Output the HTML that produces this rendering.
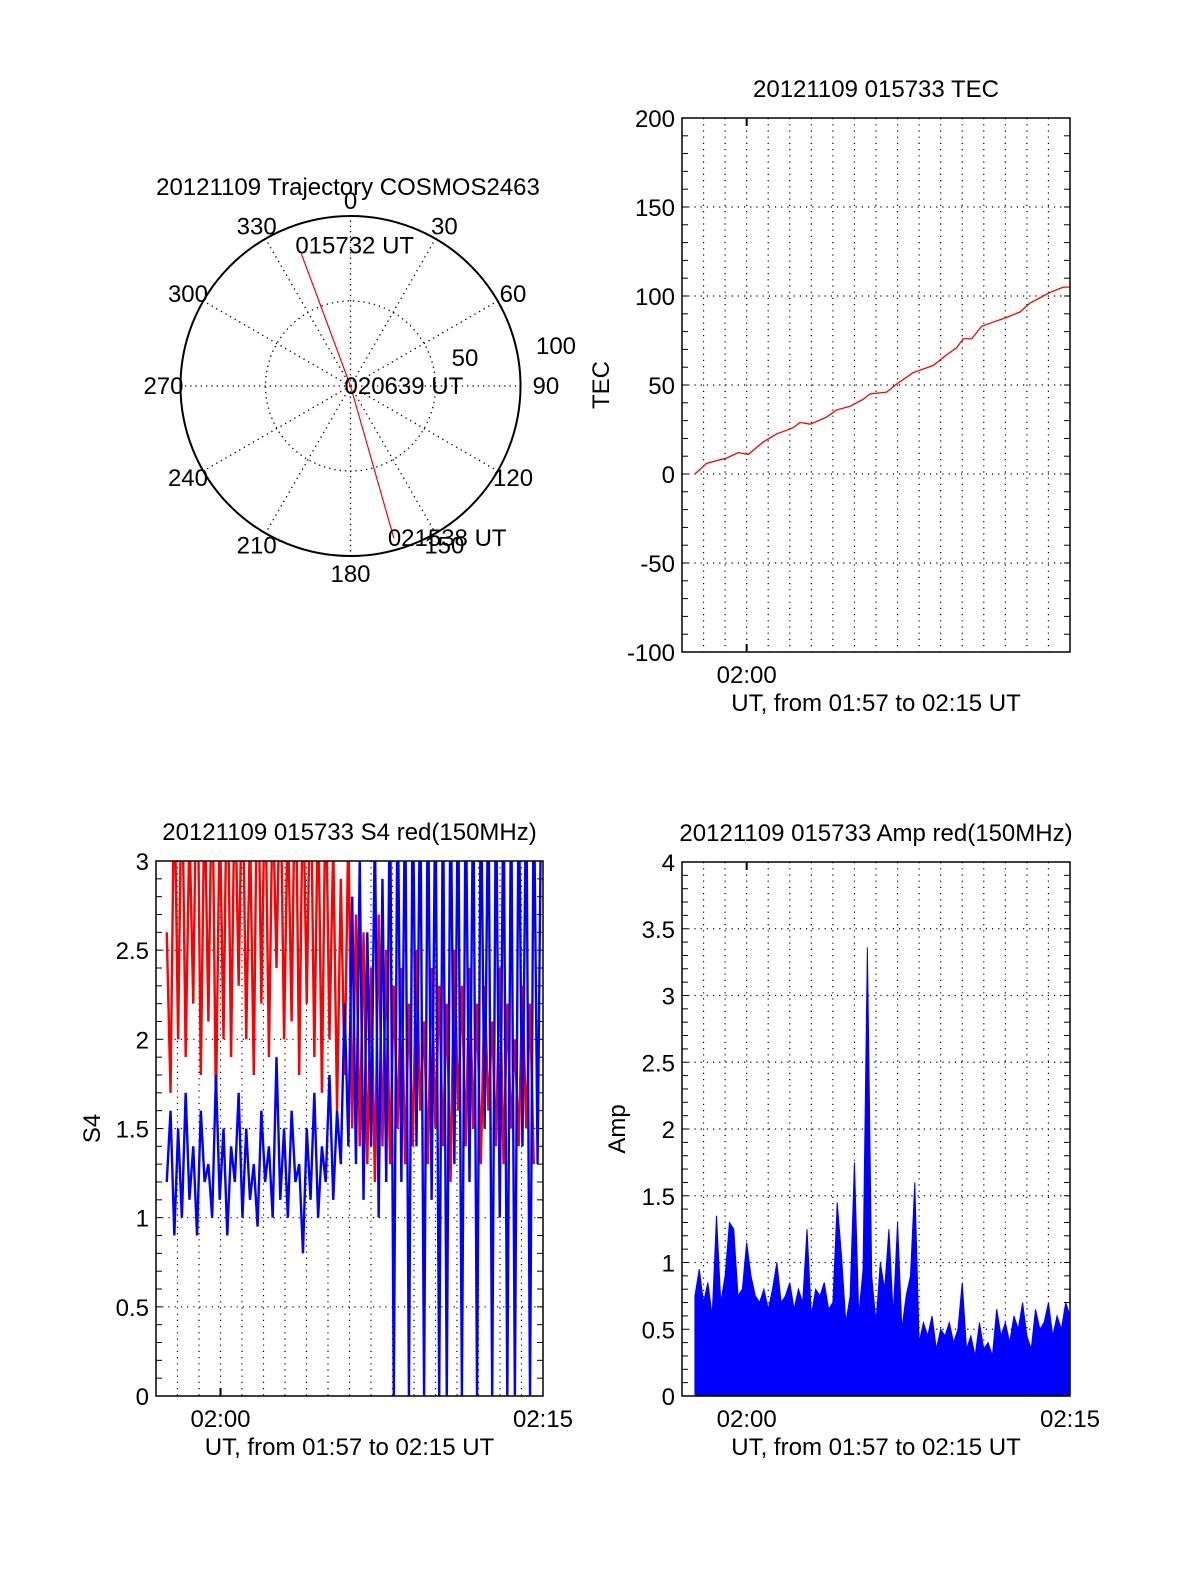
<!DOCTYPE html>
<html><head><meta charset="utf-8"><style>
html,body{margin:0;padding:0;background:#fff}
svg text{font-family:"Liberation Sans",sans-serif;font-size:24px;fill:#000}
</style></head><body>
<svg id="fig" width="1200" height="1575" xmlns="http://www.w3.org/2000/svg">
<defs>
<clipPath id="clipS4"><rect x="156" y="861" width="387" height="535"/></clipPath>
<clipPath id="clipAmp"><rect x="682" y="862" width="388" height="534"/></clipPath>
</defs>
<g id="polar"></g>
<g id="tec"></g>
<g id="s4"></g>
<g id="amp"></g>
</svg>
<script>
// ---------- data ----------
const polarAz = [339.6, 0, 164.1];
const polarZen = [83, 0, 93];
const polarLabels = ["015732 UT", "020639 UT", "021538 UT"];

const tecT = [0.60,1.14,2.07,2.61,3.08,3.77,4.39,5.16,5.47,5.94,6.71,7.17,7.79,8.41,8.72,9.49,9.95,10.73,11.66,12.28,12.74,13.05,13.44,13.90,14.36,15.06,15.68,16.14,16.76,17.07,17.69,18.0];
const tecV = [0,6,9,12,11,18,22.5,26,29,28,32,36,38,42,45,46,50.5,57,61,67,71,76,76,83,85,88,91,96,100,102,105,105];
const tecYTicks = [-100,-50,0,50,100,150,200];

const s4T0 = 0.5, s4Step = 0.176;
const s4Red = [2.6,1.7,3.5,2.0,3.6,1.9,3.2,2.2,3.8,1.8,3.4,2.1,3.6,1.6,3.3,2.0,3.7,1.9,3.5,2.3,3.6,2.0,3.2,1.8,3.8,2.2,3.5,1.9,3.4,2.4,3.6,2.0,3.3,2.1,3.7,1.8,3.5,2.2,3.6,1.9,3.4,1.7,3.5,2.0,3.1,1.6,2.9,1.8,3.2,1.5,2.7,1.4,
 2.6,1.3,2.4,1.2,2.7,1.4,2.5,1.3,2.3,1.5,2.4,1.3,2.2,1.4,2.5,1.6,2.1,1.3,2.4,1.5,2.3,1.4,2.2,1.2,2.5,1.6,2.3,1.4,2.4,1.5,2.2,1.3,2.3,1.6,2.1,1.4,2.4,1.3,2.2,1.5,2.0,1.4,2.3,1.5,2.2,1.3];
const s4Blue = [1.2,1.6,0.9,1.5,1.0,1.7,1.1,1.4,0.9,1.6,1.2,1.3,1.0,1.8,1.1,1.5,0.9,1.4,1.2,1.7,1.0,1.5,1.1,1.3,0.95,1.6,1.2,1.4,1.0,1.9,1.1,1.5,1.0,1.6,1.2,1.3,0.8,1.5,1.1,1.7,1.0,1.4,1.2,1.8,1.1,1.6,1.3,2.2,
 1.4,2.8,1.3,3.0,1.1,2.6,1.4,3.2,1.0,2.9,1.2,3.5,0.0,3.5,1.2,3.5,0.0,3.5,1.4,3.5,0.0,3.5,1.1,3.5,0.0,3.5,0.0,3.5,1.3,3.5,0.0,3.5,1.2,3.5,0.0,3.5,1.5,3.5,0.0,3.5,1.0,3.5,0.0,3.5,0.0,3.5,1.4,3.5,0.0,3.5,1.3,3.5];
const s4YTicks = ["0","0.5","1","1.5","2","2.5","3"];

const ampT0 = 0.6, ampStep = 0.2;
const ampV = [0.75,0.95,0.7,0.85,0.6,1.35,0.7,0.9,1.3,1.25,0.75,0.8,1.15,0.9,0.75,0.7,0.8,0.65,0.8,1.0,0.7,0.75,0.85,0.65,0.8,0.7,1.25,0.6,0.8,0.75,0.85,0.65,0.7,1.45,1.05,0.55,0.75,1.75,0.6,0.95,3.36,0.9,0.55,1.0,0.8,1.25,0.6,1.3,0.5,0.75,0.9,1.6,0.4,0.55,0.45,0.6,0.35,0.5,0.45,0.55,0.4,0.5,0.85,0.35,0.45,0.3,0.55,0.35,0.4,0.3,0.65,0.45,0.55,0.4,0.6,0.5,0.7,0.45,0.35,0.65,0.5,0.55,0.7,0.45,0.6,0.5,0.7,0.6];
const ampYTicks = ["0","0.5","1","1.5","2","2.5","3","3.5","4"];

// ---------- helpers ----------
const NS="http://www.w3.org/2000/svg";
function el(parent,tag,attrs){const e=document.createElementNS(NS,tag);for(const k in attrs)e.setAttribute(k,attrs[k]);parent.appendChild(e);return e;}
function txt(parent,x,y,s,anchor){const t=el(parent,'text',{x:x,y:y,'text-anchor':anchor||'middle'});t.textContent=s;return t;}

// ---------- polar ----------
(function(){
 const g=document.getElementById('polar');
 const cx=350.5,cy=386,R=170;
 const c1=el(g,'circle',{cx:cx,cy:cy,r:R,fill:'none',stroke:'#000','stroke-width':2});
 
 const c2=el(g,'circle',{cx:cx,cy:cy,r:R/2,fill:'none',stroke:'#000','stroke-width':1.3,'stroke-dasharray':'1.3,4'});
 
 for(let a=0;a<360;a+=30){
  const r=a*Math.PI/180;
  const l=el(g,'line',{x1:cx,y1:cy,x2:cx+R*Math.sin(r),y2:cy-R*Math.cos(r),stroke:'#000','stroke-width':1.3,'stroke-dasharray':'1.3,4'});
  
  const lr=R+14;
  const t=txt(g,cx+lr*Math.sin(r)*1.02,cy-lr*Math.cos(r)+8+(a===0?-1:0)+(a===180?4:0),String(a));
  if(a===90){t.setAttribute('x',cx+R+12);t.setAttribute('text-anchor','start');}
  if(a===270){t.setAttribute('x',cx-R+3);t.setAttribute('text-anchor','end');}
  
 }
 const t50=txt(g,465,366,'50');
 const t100=txt(g,556,354,'100');
 const tt=txt(g,348,195,'20121109 Trajectory COSMOS2463');
 
 const pts=polarAz.map((a,i)=>{const r=a*Math.PI/180,d=polarZen[i]/100*R;return [cx+d*Math.sin(r),cy-d*Math.cos(r)];});
 const pl=el(g,'polyline',{points:pts.map(p=>p.join(',')).join(' '),fill:'none',stroke:'#f00','stroke-width':1.2});
 
 pts.forEach((p,i)=>{const t=txt(g,p[0]-6,p[1]+(i===0?0:8),polarLabels[i],'start');
  });
})();

// ---------- generic panel ----------
function panel(g,o){
 const {x0,y0,w,h,ymin,ymax,title,ylabel,ylx,yticks,xlab}=o;
 const X=m=>x0+m/18*w, Y=v=>y0+h-(v-ymin)/(ymax-ymin)*h;
 for(let m=1;m<18;m++){
  const l=el(g,'line',{x1:X(m),y1:y0,x2:X(m),y2:y0+h,stroke:'#000','stroke-width':1.2,'stroke-dasharray':'1.2,5'});
  
 }
 yticks.forEach(v=>{
  const yy=Y(+v);
  if(+v>ymin && +v<ymax){const l=el(g,'line',{x1:x0,y1:yy,x2:x0+w,y2:yy,stroke:'#000','stroke-width':1.2,'stroke-dasharray':'1.2,5'});
   }
  const t=txt(g,x0-7,yy+9,String(v),'end');
  
 });
 const nMinor=o.minorN;
 for(let i=1;i<nMinor;i++){const yy=y0+h-i/nMinor*h;
  el(g,'line',{x1:x0,y1:yy,x2:x0+6,y2:yy,stroke:'#000','stroke-width':1});
  el(g,'line',{x1:x0+w,y1:yy,x2:x0+w-6,y2:yy,stroke:'#000','stroke-width':1});}
 el(g,'line',{x1:X(3),y1:y0+h,x2:X(3),y2:y0+h-8,stroke:'#000','stroke-width':2});
 el(g,'line',{x1:X(3),y1:y0,x2:X(3),y2:y0+8,stroke:'#000','stroke-width':2});
 const tt=txt(g,x0+w/2,y0-21,title);
 const yl=txt(g,0,0,ylabel);yl.setAttribute('transform',`translate(${ylx},${y0+h/2}) rotate(-90)`);
 
 xlab.forEach(([m,s])=>{const t=txt(g,X(m),y0+h+31,s);});
 const xt=txt(g,x0+w/2,y0+h+59,'UT, from 01:57 to 02:15 UT');
 return {X,Y,frame:()=>{const f=el(g,'rect',{x:x0,y:y0,width:w,height:h,fill:'none',stroke:'#000','stroke-width':1.5});
  }};
}

// TEC
(function(){
 const g=document.getElementById('tec');
 const p=panel(g,{x0:682,y0:118,w:388,h:534,ymin:-100,ymax:200,title:'20121109 015733 TEC',ylabel:'TEC',ylx:609,yticks:tecYTicks,minorN:30,xlab:[[3,'02:00']]});
 const l=el(g,'polyline',{points:tecT.map((t,i)=>p.X(t)+','+p.Y(tecV[i])).join(' '),fill:'none',stroke:'#f00','stroke-width':1.3});
 
 p.frame();
})();

// S4
(function(){
 const g=document.getElementById('s4');
 const p=panel(g,{x0:156,y0:861,w:387,h:535,ymin:0,ymax:3,title:'20121109 015733 S4 red(150MHz)',ylabel:'S4',ylx:100,yticks:s4YTicks,minorN:30,xlab:[[3,'02:00'],[18,'02:15']]});
 const cg=el(g,'g',{'clip-path':'url(#clipS4)'});
 const lr=el(cg,'polyline',{points:s4Red.map((v,i)=>p.X(s4T0+i*s4Step)+','+p.Y(v)).join(' '),fill:'none',stroke:'#f00','stroke-width':2.4});
 
 const lb=el(cg,'polyline',{points:s4Blue.map((v,i)=>p.X(s4T0+i*s4Step)+','+p.Y(v)).join(' '),fill:'none',stroke:'#00f','stroke-width':2.4});
 
 p.frame();
})();

// Amp
(function(){
 const g=document.getElementById('amp');
 const p=panel(g,{x0:682,y0:862,w:388,h:534,ymin:0,ymax:4,title:'20121109 015733 Amp red(150MHz)',ylabel:'Amp',ylx:625,yticks:ampYTicks,minorN:40,xlab:[[3,'02:00'],[18,'02:15']]});
 const cg=el(g,'g',{'clip-path':'url(#clipAmp)'});
 const pts=ampV.map((v,i)=>p.X(ampT0+i*ampStep)+','+p.Y(v));
 const poly=el(cg,'polygon',{points:p.X(ampT0)+','+p.Y(0)+' '+pts.join(' ')+' '+p.X(ampT0+(ampV.length-1)*ampStep)+','+p.Y(0),fill:'#00f',stroke:'#00f','stroke-width':1});
 
 p.frame();
})();
</script>
</body></html>
